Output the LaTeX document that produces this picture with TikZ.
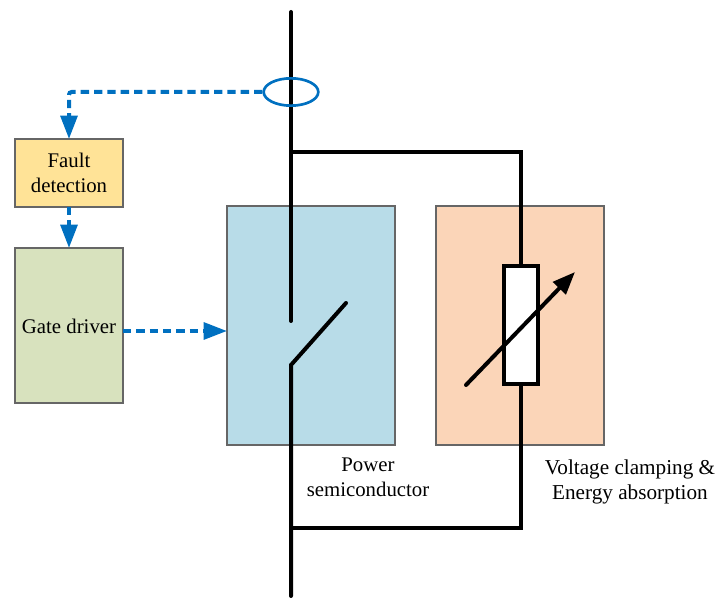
\documentclass[tikz,border=0pt]{standalone}
\usepackage{fontspec}
\setmainfont{Liberation Serif}
\usetikzlibrary{arrows.meta, shapes.geometric}
\definecolor{sigblue}{HTML}{0070C0}
\definecolor{faultfill}{HTML}{FFE397}
\definecolor{gatefill}{HTML}{D8E2BE}
\definecolor{powerfill}{HTML}{B8DCE8}
\definecolor{clampfill}{HTML}{FBD5B8}
\tikzset{
    block/.style={draw=black!60, line width=1pt, inner sep=0pt, outer sep=0pt, align=center},
    wire/.style={line width=3pt, line cap=round, line join=miter},
    signal/.style={draw=sigblue, line width=3pt, dash pattern=on 6.2pt off 3.8pt, rounded corners=2pt,
        -{Triangle[length=17.5pt,width=12.5pt,sep=0pt]}, color=sigblue},
    textlabel/.style={font=\fontsize{15.6}{18.8}\selectfont, align=center, inner sep=0pt}
}
\begin{document}
\begin{tikzpicture}[x=0.75pt, y=-0.75pt]
    \useasboundingbox (0,0) rectangle (717,598);
    \def\busx{291}
    \def\branchx{521}
    % Blocks
    \node[block, fill=faultfill, minimum width=81pt, minimum height=51pt, font=\fontsize{15.6}{18.8}\selectfont] (fault) at (69,173) {Fault\\detection};
    \node[block, fill=gatefill, minimum width=81pt, minimum height=116.25pt] (gate) at (69,325.5) {};
    \node[textlabel] (gatetext) at (69,326) {Gate driver};
    \node[block, fill=powerfill, minimum width=126pt, minimum height=179.25pt] (power) at (311,325.5) {};
    \node[block, fill=clampfill, minimum width=126pt, minimum height=179.25pt] (clamp) at (520,325.5) {};

    % Main line with switch
    \coordinate (top) at (\busx,12);
    \coordinate (bottom) at (\busx,596);
    \coordinate (contact) at (\busx,321);
    \coordinate (hinge) at (\busx,365);
    \coordinate (blade) at (346,303);
    \draw[wire] (top) -- (contact);
    \draw[wire] (bottom) -- (hinge) -- (blade);

    % Branch with varistor
    \node[draw, wire, fill=white, minimum width=26pt, minimum height=89pt, inner sep=0pt] (varistor) at (\branchx,325) {};
    \coordinate (branchtop) at (\busx,152);
    \coordinate (branchbot) at (\busx,528);
    \draw[wire, line cap=butt] (branchtop) -| (varistor.north);
    \draw[wire, line cap=butt] (branchbot) -| (varistor.south);
    \coordinate (vstart) at (466,385);
    \coordinate (vend) at (575,272);
    \draw[wire, -{Triangle[length=17pt,width=13pt,sep=0pt]}] (vstart) -- (vend);

    % Current sensor and signals
    \node[draw=sigblue, line width=2pt, ellipse, minimum width=41pt, minimum height=20.5pt, inner sep=0pt] (sensor) at (\busx,92) {};
    \coordinate (corner) at (69,92);
    \coordinate (gateout) at (123,331);
    \coordinate (powerin) at (227,331);
    \draw[signal] (sensor.west) -- (corner) -- (fault.north);
    \draw[signal] (fault.south) -- (gate.north);
    \draw[signal] (gateout) -- (powerin);

    % Labels
    \node[textlabel] (powertext) at (368,477) {Power\\semiconductor};
    \node[textlabel, font=\fontsize{15.9}{18.8}\selectfont] (clamptext) at (630,481.5) {Voltage clamping \&\\Energy absorption};
\end{tikzpicture}
\end{document}
